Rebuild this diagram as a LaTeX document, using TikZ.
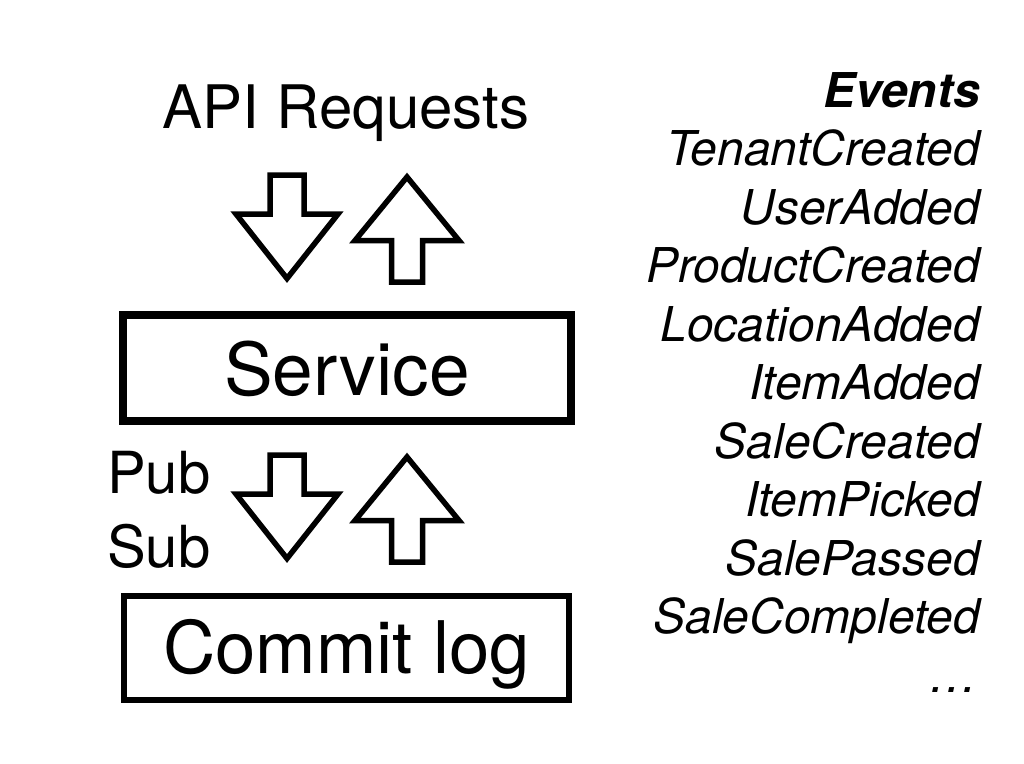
\documentclass[tikz,border=0pt]{standalone}
\usepackage{fontspec}
\setmainfont{TeX Gyre Heros}
\begin{document}
\begin{tikzpicture}[x=1pt,y=-1pt,
  arrowline/.style={draw=black,line width=5.5pt,miter limit=20,fill=white},
  box/.style={draw=black,inner sep=0pt,fill=white},
  evt/.style={anchor=base east,inner sep=0pt,font=\fontsize{48}{48}\selectfont\itshape},
  dnarrow/.pic={\path[arrowline] (-17,0) -- (17,0) -- (17,39) -- (51,39) -- (0,103.5) -- (-51,39) -- (-17,39) -- cycle;},
  uparrow/.pic={\path[arrowline] (0,0) -- (52,63.5) -- (15.5,63.5) -- (15.5,105) -- (-15.5,105) -- (-15.5,63.5) -- (-52,63.5) -- cycle;}
]
\useasboundingbox[fill=white] (0,0) rectangle (1024,763);

% left side
\node[anchor=base,inner sep=0pt,font=\fontsize{60}{60}\selectfont] (api) at (346,128) {API Requests};
\pic (apidown) at (287,175) {dnarrow};
\pic (apiup) at (407,177) {uparrow};

\node[box,line width=8pt,minimum width=448pt,minimum height=106pt,
  text height=54pt,text depth=0pt,font=\fontsize{73}{73}\selectfont] (service) at (347,368) {Service};

\node[anchor=base west,inner sep=0pt,font=\fontsize{58}{58}\selectfont] (pub) at (107,493) {Pub};
\node[anchor=base west,inner sep=0pt,font=\fontsize{58}{58}\selectfont] (sub) at (107,567) {Sub};
\pic (psdown) at (287,455) {dnarrow};
\pic (psup) at (407,457) {uparrow};

\node[box,line width=6pt,minimum width=445pt,minimum height=104pt,
  text height=50pt,text depth=0pt,font=\fontsize{72.5}{72.5}\selectfont] (commitlog) at (346.5,648) {Commit log};

% events column
\node[anchor=base east,inner sep=0pt,font=\fontsize{48}{48}\selectfont\bfseries\itshape] (events) at (980,107) {Events};
\node[evt] (e1) at (980,165.5) {TenantCreated};
\node[evt] (e2) at (980,224) {UserAdded};
\node[evt] (e3) at (980,282.5) {ProductCreated};
\node[evt] (e4) at (980,341) {LocationAdded};
\node[evt] (e5) at (980,399.5) {ItemAdded};
\node[evt] (e6) at (980,458) {SaleCreated};
\node[evt] (e7) at (980,516.5) {ItemPicked};
\node[evt] (e8) at (980,575) {SalePassed};
\node[evt] (e9) at (980,633.5) {SaleCompleted};
\node[evt] (e10) at (978,692) {…};
\end{tikzpicture}
\end{document}
